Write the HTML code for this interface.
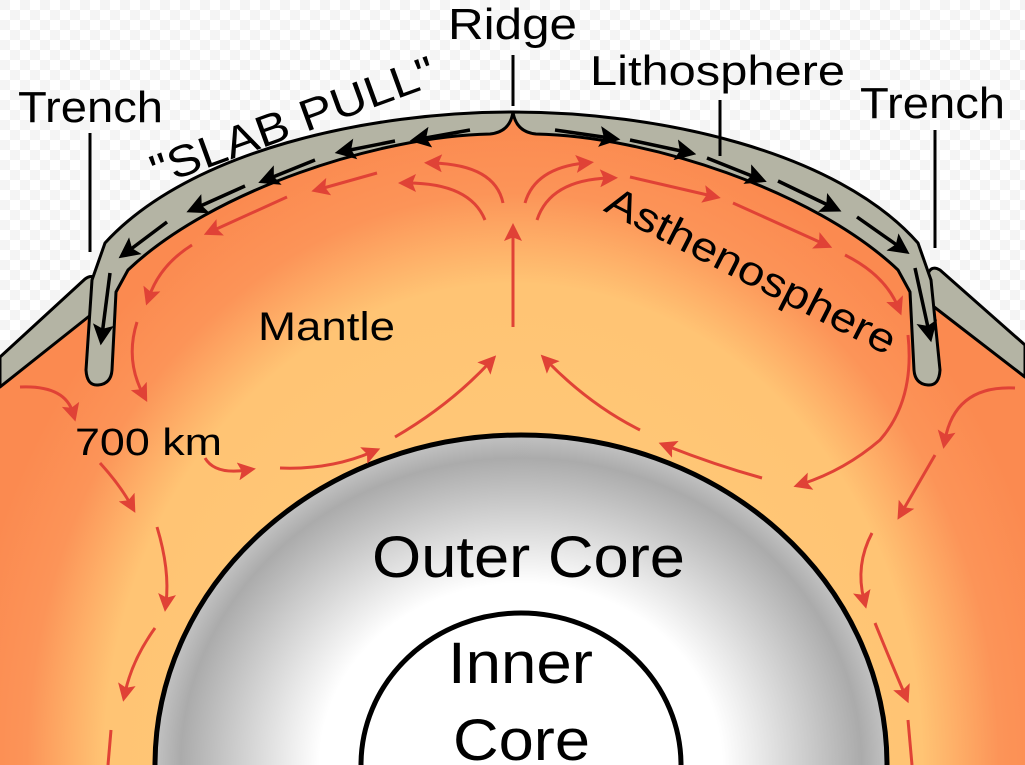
<!DOCTYPE html>
<html><head><meta charset="utf-8"><style>
html,body{margin:0;padding:0;background:#fff;overflow:hidden;width:1025px;height:765px;}
svg{display:block;}
text{font-family:"Liberation Sans",sans-serif;fill:#000;}
</style></head><body>
<svg width="1025" height="765" viewBox="0 0 1025 765" xmlns="http://www.w3.org/2000/svg">
<defs>
<radialGradient id="mg" gradientUnits="userSpaceOnUse" cx="513" cy="765" r="650" gradientTransform="translate(513 765) scale(0.85 1) translate(-513 -765)">
<stop offset="0" stop-color="#ffcc7a"/>
<stop offset="0.74" stop-color="#ffc474"/>
<stop offset="0.88" stop-color="#fc9458"/>
<stop offset="1" stop-color="#fb8a50"/>
</radialGradient>
<radialGradient id="cg" cx="0.5" cy="0.5" r="0.5">
<stop offset="0" stop-color="#fff"/>
<stop offset="0.55" stop-color="#fff"/>
<stop offset="0.8" stop-color="#c8c8c8"/>
<stop offset="0.93" stop-color="#ababab"/>
<stop offset="1" stop-color="#c2c2c2"/>
</radialGradient>
<marker id="ra" markerWidth="6" markerHeight="6" refX="3" refY="3" orient="auto" markerUnits="strokeWidth">
<path d="M0,0 L6,3 L0,6 L1.2,3 Z" fill="#e04236"/>
</marker>
<marker id="ba" markerWidth="6" markerHeight="6" refX="3" refY="3" orient="auto" markerUnits="strokeWidth">
<path d="M0,0 L6,3 L0,6 L1.2,3 Z" fill="#000"/>
</marker>
<pattern id="chk" width="20" height="20" patternUnits="userSpaceOnUse">
<rect width="20" height="20" fill="#fff"/>
<rect width="10" height="10" fill="#f4f4f4"/>
<rect x="10" y="10" width="10" height="10" fill="#f4f4f4"/>
</pattern>
</defs>
<rect width="1025" height="765" fill="url(#chk)"/>

<path d="M0,380 L92,300 L110,250 C190,160 370,115 513,115 C656,115 836,160 916,250 L934,300 L1025,372 L1025,765 L0,765 Z" fill="url(#mg)"/>

<path d="M0,357 L85,279 Q95,272 99,285 L97,310 L0,387 Z" fill="#b4b4a4" stroke="#000" stroke-width="3" stroke-linejoin="round"/>
<path d="M1025,345 L940,270 Q930,264 927,277 L929,303 L1025,377 Z" fill="#b4b4a4" stroke="#000" stroke-width="3" stroke-linejoin="round"/>

<path d="M513,112 C370,112 190,150 105,243 L92,280 L86,370 Q87,386 98,385 Q111,384 112,370 L116,292 L128,270 C212,190 380,136 490,134 Q510,132 513,112 Z" fill="#b4b4a4" stroke="#000" stroke-width="3" stroke-linejoin="round"/>
<path d="M513,112 C656,112 836,150 918,243 L931,280 L940,370 Q939,386 928,385 Q915,384 914,370 L910,292 L898,270 C814,190 646,136 536,134 Q516,132 513,112 Z" fill="#b4b4a4" stroke="#000" stroke-width="3" stroke-linejoin="round"/>

<g stroke="#000" stroke-width="3.5" fill="none" marker-end="url(#ba)">
<path d="M470,130 L420,139"/>
<path d="M395,141 L345,151"/>
<path d="M315,160 L268,179"/>
<path d="M245,186 L196,208"/>
<path d="M167,222 L127,252"/>
<path d="M110,273 L102,335"/>
<path d="M555,130 L610,138"/>
<path d="M630,140 L686,152"/>
<path d="M707,158 L757,178"/>
<path d="M778,181 L832,207"/>
<path d="M857,217 L901,248"/>
<path d="M915,268 L929,332"/>
</g>

<ellipse cx="521" cy="765" rx="366" ry="330" fill="url(#cg)" stroke="#000" stroke-width="5"/>
<ellipse cx="521" cy="765" rx="160" ry="152" fill="#fff" stroke="#000" stroke-width="5"/>

<g stroke="#e04236" stroke-width="3" fill="none" marker-end="url(#ra)">
<path d="M503,203 Q495,165 433,163"/>
<path d="M485,220 Q470,183 407,183"/>
<path d="M377,173 L320,189"/>
<path d="M287,197 L212,231"/>
<path d="M192,245 Q160,265 149,297"/>
<path d="M137,322 Q125,360 143,394"/>
<path d="M20,387 Q65,385 73,413"/>
<path d="M100,463 Q120,485 131,505"/>
<path d="M157,527 Q170,570 166,603"/>
<path d="M155,628 Q132,660 125,693"/>
<path d="M111,730 L108,765" marker-end="none"/>
<path d="M205,458 Q215,475 247,470"/>
<path d="M280,468 Q330,470 372,452"/>
<path d="M395,437 Q450,405 490,362"/>
<path d="M513,327 L513,232"/>
<path d="M525,203 Q535,168 585,163"/>
<path d="M537,220 Q550,180 609,178"/>
<path d="M630,177 L712,196"/>
<path d="M733,203 L824,244"/>
<path d="M845,255 Q885,275 898,307"/>
<path d="M640,430 Q590,405 547,361"/>
<path d="M762,478 Q715,465 667,446"/>
<path d="M908,335 Q915,400 880,440 Q845,470 802,484"/>
<path d="M1015,388 Q955,385 945,440"/>
<path d="M935,455 L902,512"/>
<path d="M872,533 Q855,565 864,600"/>
<path d="M875,623 Q890,660 905,695"/>
<path d="M908,720 L912,765" marker-end="none"/>
</g>

<g stroke="#000" stroke-width="3">
<line x1="513" y1="55" x2="513" y2="106"/>
<line x1="720" y1="100" x2="720" y2="156"/>
<line x1="90" y1="133" x2="90" y2="252"/>
<line x1="935" y1="130" x2="935" y2="248"/>
</g>

<g lengthAdjust="spacingAndGlyphs">
<text x="448" y="39" font-size="44" textLength="129" lengthAdjust="spacingAndGlyphs">Ridge</text>
<text x="590" y="85" font-size="42" textLength="255" lengthAdjust="spacingAndGlyphs">Lithosphere</text>
<text x="18" y="122" font-size="44" textLength="145" lengthAdjust="spacingAndGlyphs">Trench</text>
<text x="860" y="118" font-size="44" textLength="145" lengthAdjust="spacingAndGlyphs">Trench</text>
<text x="0" y="0" font-size="44" text-anchor="middle" textLength="300" lengthAdjust="spacingAndGlyphs" transform="translate(298,135) rotate(-20)">"SLAB PULL"</text>
<text x="258" y="340" font-size="40" textLength="137" lengthAdjust="spacingAndGlyphs">Mantle</text>
<text x="0" y="0" font-size="41" text-anchor="middle" textLength="320" lengthAdjust="spacingAndGlyphs" transform="translate(745,283) rotate(27)">Asthenosphere</text>
<text x="75" y="455" font-size="38" textLength="147" lengthAdjust="spacingAndGlyphs">700 km</text>
<text x="372" y="577" font-size="58" textLength="313" lengthAdjust="spacingAndGlyphs">Outer Core</text>
<text x="448" y="683" font-size="58" textLength="145" lengthAdjust="spacingAndGlyphs">Inner</text>
<text x="453" y="760" font-size="58" textLength="137" lengthAdjust="spacingAndGlyphs">Core</text>
</g>
</svg>
</body></html>
